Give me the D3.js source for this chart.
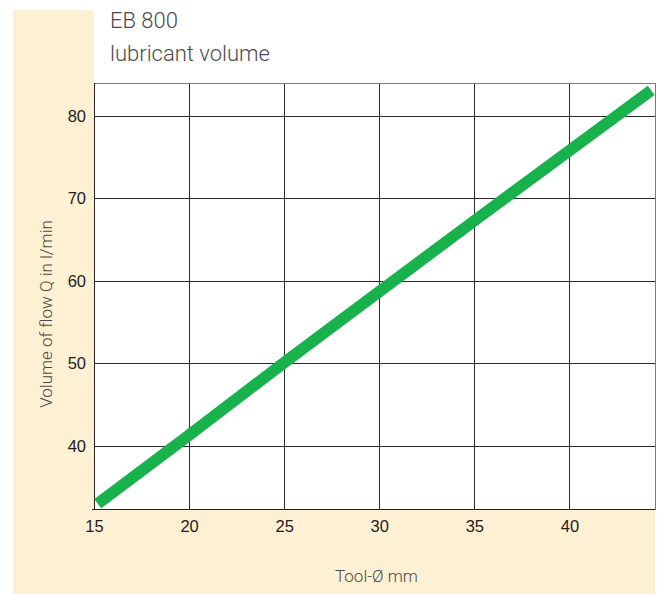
<!DOCTYPE html>
<html>
<head>
<meta charset="utf-8">
<script src="https://cdn.jsdelivr.net/npm/d3@7"></script>
<style>
  body { margin: 0; background: #fff; }
  .tick text { font-family: "Liberation Sans", Arial, sans-serif; font-size: 16.5px; fill: #1f1c1d; }
  .tick line { stroke: #2b2b2b; stroke-width: 1; shape-rendering: crispEdges; }
  .label { font-family: Roboto, "Liberation Sans", sans-serif; font-weight: 300; fill: #4a4a4a; }
</style>
</head>
<body>
<div id="viz"></div>
<script>
// data
const toolDiameter = [15.2, 20, 25, 30, 35, 40, 44.3];
const flowVolume = [33.0, 41.3, 50.1, 58.7, 67.3, 75.8, 83.1];
const xTicks = [15, 20, 25, 30, 35, 40];
const yTicks = [40, 50, 60, 70, 80];

function buildChart(containerId) {
    const width = 659;
    const height = 595;

    const margin = {
        top: 83,
        left: 94,
        right: 4,
        bottom: 86
    };

    const innerWidth = width - margin.left - margin.right;
    const innerHeight = height - margin.top - margin.bottom;

    const svg = d3.select(containerId)
                    .append('svg')
                    .attr('width', width)
                    .attr('height', height);

    // beige L-shaped panel
    svg.append('rect')
       .attr('x', 13).attr('y', 10)
       .attr('width', 642).attr('height', 584)
       .attr('fill', '#fef0d3');

    svg.append('rect')
       .attr('x', margin.left).attr('y', 0)
       .attr('width', width - margin.left).attr('height', margin.top + innerHeight)
       .attr('fill', '#fff');

    const g = svg.append('g')
                 .attr('transform', 'translate(' + margin.left + ',' + margin.top + ')');

    const x = d3.scaleLinear()
                .domain([15, 44.5])
                .range([0, innerWidth]);

    const y = d3.scaleLinear()
                .domain([32.35, 84])
                .range([innerHeight, 0]);

    const xAxis = d3.axisBottom(x)
                    .tickValues(xTicks)
                    .tickSize(-innerHeight)
                    .tickPadding(11);

    const yAxis = d3.axisLeft(y)
                    .tickValues(yTicks)
                    .tickSize(-innerWidth)
                    .tickPadding(8);

    g.append('g')
     .attr('class', 'x-axis')
     .attr('transform', 'translate(0,' + innerHeight + ')')
     .call(xAxis)
     .call(a => a.select('.domain').remove());

    g.append('g')
     .attr('class', 'y-axis')
     .call(yAxis)
     .call(a => a.select('.domain').remove());

    // frame
    g.append('rect')
     .attr('x', 0).attr('y', 0)
     .attr('width', innerWidth).attr('height', innerHeight)
     .attr('fill', 'none')
     .attr('stroke', '#7a7a7a')
     .attr('shape-rendering', 'crispEdges');

    g.append('line')
     .attr('x1', -2).attr('x2', innerWidth)
     .attr('y1', innerHeight).attr('y2', innerHeight)
     .attr('stroke', '#222')
     .attr('shape-rendering', 'crispEdges');

    g.append('line')
     .attr('x1', 0).attr('x2', 0)
     .attr('y1', 0).attr('y2', innerHeight)
     .attr('stroke', '#222')
     .attr('shape-rendering', 'crispEdges');

    const data = toolDiameter.map((d, i) => ({ d: d, q: flowVolume[i] }));

    const line = d3.line()
                   .x(p => x(p.d))
                   .y(p => y(p.q));

    g.append('path')
     .datum(data)
     .attr('d', line)
     .attr('fill', 'none')
     .attr('stroke', '#17b24c')
     .attr('stroke-width', 11.5)
     .attr('stroke-linecap', 'butt');

    svg.append('text')
       .attr('class', 'label')
       .attr('x', 110).attr('y', 28)
       .style('font-size', '22px')
       .text('EB 800');

    svg.append('text')
       .attr('class', 'label')
       .attr('x', 110).attr('y', 61)
       .style('font-size', '22px')
       .text('lubricant volume');

    svg.append('text')
       .attr('class', 'label')
       .attr('x', 335).attr('y', 582)
       .style('font-size', '17px')
       .text('Tool-Ø mm');

    svg.append('text')
       .attr('class', 'label')
       .attr('transform', 'translate(52,314) rotate(-90)')
       .attr('text-anchor', 'middle')
       .style('font-size', '17px')
       .text('Volume of flow Q in l/min');
}

buildChart('#viz');
</script>
</body>
</html>
